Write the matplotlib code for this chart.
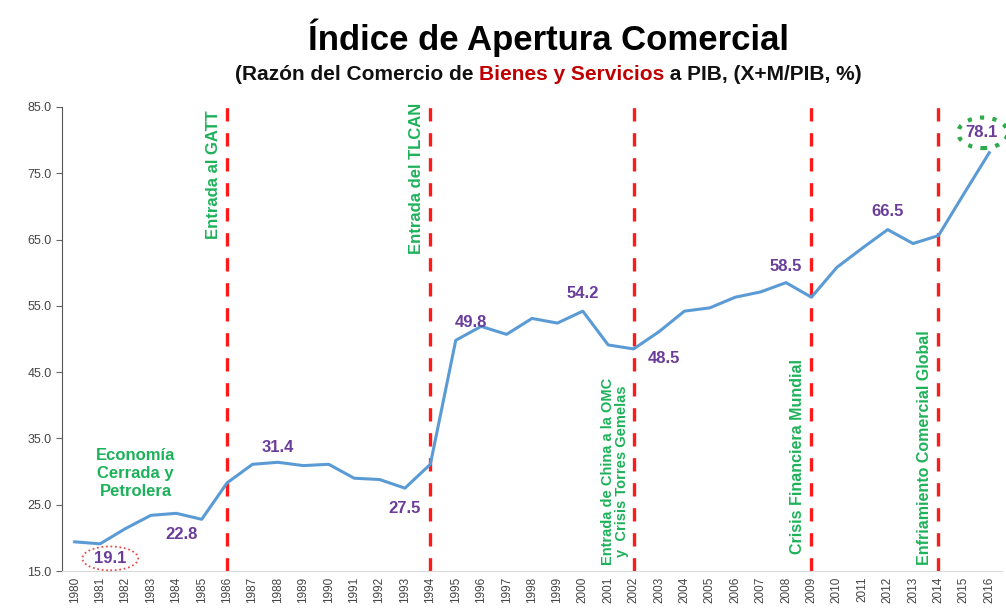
import numpy as np
import matplotlib.pyplot as plt
from matplotlib.patches import Ellipse

years = list(range(1980, 2017))
apertura = [19.4, 19.1, 21.4, 23.4, 23.7, 22.8, 28.3, 31.1, 31.4, 30.9,
            31.1, 29.0, 28.8, 27.5, 31.1, 49.8, 51.9, 50.7, 53.1, 52.4,
            54.2, 49.1, 48.5, 51.1, 54.2, 54.7, 56.3, 57.1, 58.5, 56.3,
            60.8, 63.7, 66.5, 64.4, 65.6, 71.9, 78.1]

# anios con etiqueta de valor
label_years = [1981, 1985, 1988, 1993, 1995, 2000, 2002, 2008, 2012, 2016]

event_years = [1986, 1994, 2002, 2009, 2014]
event_texts = ["Entrada al GATT", "Entrada del TLCAN",
               "Entrada de China a la OMC\ny  Crisis Torres Gemelas",
               "Crisis Financiera Mundial", "Enfriamiento Comercial Global"]

plt.rcParams['font.family'] = ['Liberation Sans', 'DejaVu Sans']

purple = '#6A3D9A'
green = '#1DB25A'
red = '#FF1A1A'
blue = '#5B9BD5'

fig = plt.figure(figsize=(10.06, 6.13), dpi=100)
ax = fig.add_axes([0.0616, 0.0685, 0.9344, 0.757])

ax.plot(years, apertura, color=blue, lw=2.2, zorder=3)
ax.set_xlim(1979.5, 2016.5)
ax.set_ylim(15, 85)
ax.set_yticks(np.arange(15, 86, 10))
ax.set_yticklabels([f"{v:.1f}" for v in np.arange(15, 86, 10)])
ax.set_xticks(years)
ax.set_xticklabels([str(y) for y in years], rotation=90)
ax.tick_params(axis='x', length=0, labelsize=8.5, labelcolor='#444444', pad=4)
ax.tick_params(axis='y', length=4, labelsize=9, labelcolor='#444444', color='#666666')
for s in ['top', 'right']:
    ax.spines[s].set_visible(False)
ax.spines['left'].set_color('#555555')
ax.spines['bottom'].set_color('#d9d9d9')

for yr in event_years:
    ax.axvline(yr, ymin=0, ymax=1.02, color=red, lw=2.4, ls=(0, (4, 3.5)),
               clip_on=False, zorder=2)

# textos de eventos (verticales)
ax.text(1985.45, 84.5, event_texts[0], rotation=90, ha='center', va='top',
        color=green, fontsize=12, fontweight='bold')
ax.text(1993.45, 85.7, event_texts[1], rotation=90, ha='center', va='top',
        color=green, fontsize=12, fontweight='bold')
ax.text(2001.25, 15.9, event_texts[2], rotation=90, ha='center', va='bottom',
        color=green, fontsize=10.5, fontweight='bold', linespacing=1.0)
ax.text(2008.45, 17.5, event_texts[3], rotation=90, ha='center', va='bottom',
        color=green, fontsize=11.5, fontweight='bold')
ax.text(2013.45, 15.9, event_texts[4], rotation=90, ha='center', va='bottom',
        color=green, fontsize=11.5, fontweight='bold')
ax.text(1982.4, 29.7, "Economía\nCerrada y\nPetrolera", ha='center', va='center',
        color=green, fontsize=12, fontweight='bold', linespacing=1.25)

# etiquetas de valores
vals = dict(zip(years, apertura))
offsets = {1981: (0.4, -17.0), 1985: (-0.8, -2.3), 1988: (0, 2.3), 1993: (0, -3.1),
           1995: (0.6, 2.7), 2000: (0, 2.6), 2002: (1.2, -1.5), 2008: (0, 2.4),
           2012: (0, 2.8), 2016: (-0.3, 3.0)}
for yr in label_years:
    dx, dy = offsets[yr]
    y = 16.9 if yr == 1981 else vals[yr] + dy
    ax.text(yr + dx, y, f"{vals[yr]:.1f}", ha='center', va='center',
            color=purple, fontsize=12, fontweight='bold', clip_on=False, zorder=5)

ax.add_patch(Ellipse((1981.4, 16.9), 2.2, 3.6, fill=False, ec='#E05050',
                     ls=(0, (1, 1.5)), lw=1.3, clip_on=False, zorder=4))
ax.add_patch(Ellipse((2015.75, 81.1), 1.95, 4.6, fill=False, ec='#2DAA4A',
                     ls=(0, (1, 2)), lw=3.0, clip_on=False, zorder=4))

# titulos
fig.text(0.545, 0.938, "Índice de Apertura Comercial", ha='center', va='center',
         fontsize=25, fontweight='bold')
parts = [("(Razón del Comercio de ", '#111111'),
         ("Bienes y Servicios", '#C00000'),
         (" a PIB, (X+M/PIB, %)", '#111111')]
texts = [fig.text(0, 0, s, ha='left', va='baseline', fontsize=15, fontweight='bold',
                  color=c, transform=None) for s, c in parts]
fig.canvas.draw()
r = fig.canvas.get_renderer()
widths = [t.get_window_extent(r).width for t in texts]
x0 = 0.545 * fig.bbox.width - sum(widths) / 2
ybase = (1 - 80 / 613) * fig.bbox.height
for t, w in zip(texts, widths):
    t.set_position((x0, ybase))
    x0 += w

fig.savefig('out.png', dpi=100)
